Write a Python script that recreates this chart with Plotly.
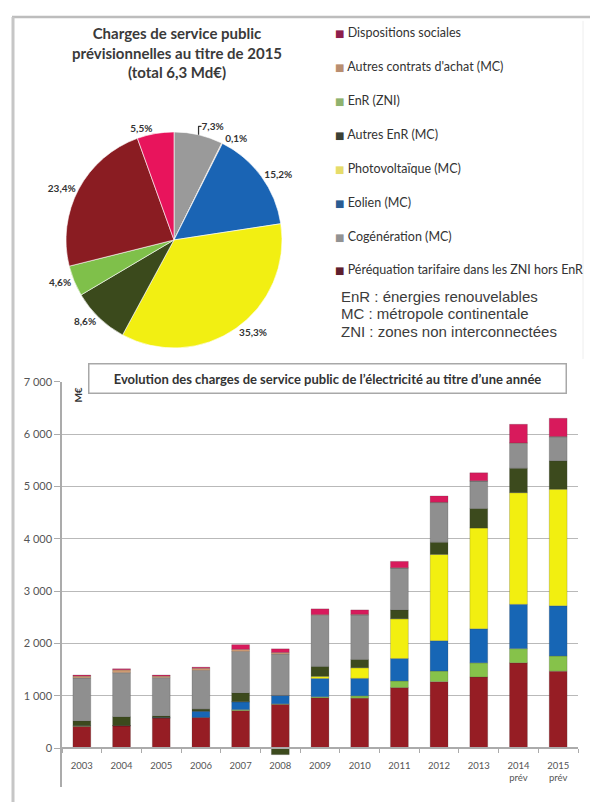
import plotly.graph_objects as go

# ---- Pie: forecast public-service charges for 2015 (shares, %) ----
pie_labels = ["Cogénération (MC)", "Autres contrats d'achat (MC)", "Eolien (MC)",
              "Photovoltaïque (MC)", "Autres EnR (MC)", "EnR (ZNI)",
              "Péréquation tarifaire dans les ZNI hors EnR", "Dispositions sociales"]
pie_values = [7.3, 0.1, 15.2, 35.3, 8.6, 4.6, 23.4, 5.5]
pie_colors = ["#9a9a9a", "#d49a6a", "#1a64b4", "#f2ef12", "#3b4a1c", "#7fc04a",
              "#8a1c22", "#e8145c"]

# ---- Stacked bars: yearly charges (M€) ----
years = ["2003", "2004", "2005", "2006", "2007", "2008", "2009", "2010",
         "2011", "2012", "2013", "2014<br>prév", "2015<br>prév"]

perequation = [420, 435, 580, 590, 720, 840, 965, 959, 1160, 1274, 1362, 1633, 1474]
enr_zni = [10, 0, 0, 0, 20, 10, 20, 44, 127, 202, 271, 272, 290]
eolien = [5, 0, 10, 120, 150, 160, 350, 334, 429, 580, 650, 844, 958]
photovoltaique = [0, 0, 0, 0, 0, 0, 40, 201, 757, 1646, 1923, 2132, 2224]
autres_enr = [90, 170, 30, 40, 170, -120, 190, 159, 170, 233, 373, 467, 542]
cogeneration = [820, 840, 730, 740, 790, 790, 978, 851, 800, 757, 524, 479, 460]
autres_contrats = [35, 55, 30, 40, 40, 30, 10, 10, 5, 5, 5, 5, 6]
dispositions_sociales = [20, 20, 20, 20, 90, 70, 110, 85, 122, 122, 152, 355, 347]

y_tick_vals = [0, 1000, 2000, 3000, 4000, 5000, 6000, 7000]
y_tick_text = ["0", "1 000", "2 000", "3 000", "4 000", "5 000", "6 000", "7 000"]

abbreviations = ["EnR : énergies renouvelables",
                 "MC : métropole continentale",
                 "ZNI : zones non interconnectées"]

# series: name, values, bar colour, legend swatch colour, legend rank
series = [
    ("Péréquation tarifaire dans les ZNI hors EnR", perequation, "#961d24", "#5e1f2e", 8),
    ("EnR (ZNI)", enr_zni, "#86c24a", "#8fb26e", 3),
    ("Eolien (MC)", eolien, "#1766b5", "#2a5c92", 6),
    ("Photovoltaïque (MC)", photovoltaique, "#f2ef10", "#e6dc6a", 5),
    ("Autres EnR (MC)", autres_enr, "#3c4a1d", "#3b4034", 4),
    ("Cogénération (MC)", cogeneration, "#8f8f8f", "#929292", 7),
    ("Autres contrats d'achat (MC)", autres_contrats, "#cf9a72", "#b98e70", 2),
    ("Dispositions sociales", dispositions_sociales, "#d81a5c", "#8d1e4c", 1),
]

W, H = 590, 802


def px(x):
    return x / W


def py(y):
    return 1 - y / H


fig = go.Figure()

fig.add_trace(go.Pie(
    labels=pie_labels, values=pie_values, sort=False, direction="clockwise",
    rotation=0, marker=dict(colors=pie_colors, line=dict(color="#ffffff", width=0.6)),
    texttemplate="<b>%{value:.1f}%</b>", textposition="outside",
    textfont=dict(family="Lato", size=10, color="#333333"),
    domain=dict(x=[px(66), px(282)], y=[py(344), py(126)]),
    showlegend=False, hoverinfo="label+value",
))

for name, vals, col, leg_col, rank in series:
    fig.add_trace(go.Bar(
        x=years, y=vals, name=name,
        marker=dict(color=col, line=dict(color="rgba(60,60,60,0.35)", width=0.6)),
        showlegend=False, xaxis="x", yaxis="y",
    ))
    # legend entry: small coloured square followed by the series name
    fig.add_trace(go.Scatter(
        x=[None], y=[None], mode="markers",
        name=f'<span style="color:{leg_col};font-family:DejaVu Sans;font-size:10px">■</span> {name}',
        legendgroup=name, legendrank=rank,
        marker=dict(symbol="square", size=1, color="rgba(0,0,0,0)",
                    line=dict(width=0, color="rgba(0,0,0,0)")),
        showlegend=True, xaxis="x", yaxis="y",
    ))

fig.update_layout(
    width=W, height=H, autosize=False,
    margin=dict(l=0, r=0, t=0, b=0),
    separators=", ",
    paper_bgcolor="white", plot_bgcolor="white",
    barmode="relative", bargap=0.55,
    font=dict(family="Lato", color="#333333"),
    legend=dict(
        x=px(295), y=py(11), xanchor="left", yanchor="top",
        traceorder="grouped", tracegroupgap=14.6,
        font=dict(family="Lato", size=12.5, color="#333333"),
        bgcolor="rgba(0,0,0,0)",
    ),
    xaxis=dict(
        domain=[px(62), px(578)], type="category", anchor="free", position=py(748),
        showline=True, linecolor="#ababab", linewidth=1.5,
        ticks="outside", tickson="boundaries", ticklen=4, tickcolor="#ababab",
        ticklabelstandoff=8,
        showgrid=False, tickfont=dict(family="Lato", size=9.5, color="#555555"),
        fixedrange=True,
    ),
    yaxis=dict(
        domain=[py(787), py(378)], anchor="x", range=[-740, 7000],
        tickvals=y_tick_vals, ticktext=y_tick_text,
        showgrid=True, gridcolor="#b9b9b9", gridwidth=1.2,
        zeroline=False, showline=True, linecolor="#ababab", linewidth=1.5,
        ticks="outside", ticklen=6, tickcolor="#ababab",
        tickfont=dict(family="Lato", size=11, color="#555555"),
    ),
)

# frame lines
fig.add_shape(type="line", xref="paper", yref="paper", x0=px(12), x1=1, y0=py(10), y1=py(10),
              line=dict(color="#bdbdbd", width=2.5))
fig.add_shape(type="line", xref="paper", yref="paper", x0=px(13), x1=px(13), y0=py(10), y1=0,
              line=dict(color="#c6c6c6", width=3))
fig.add_shape(type="line", xref="paper", yref="paper", x0=px(583), x1=px(583), y0=py(14), y1=py(355),
              line=dict(color="#eeeeee", width=1))

# pie title
fig.add_annotation(
    x=px(177), y=py(15), xref="paper", yref="paper", xanchor="center", yanchor="top",
    text="<b>Charges de service public<br>prévisionnelles au titre de 2015<br>(total 6,3 Md€)</b>",
    showarrow=False, align="center", font=dict(family="Lato", size=15, color="#3a3a3a"),
)

# abbreviations, one line each
for i, line in enumerate(abbreviations):
    fig.add_annotation(
        x=px(339), y=py(292 + 17.5 * i), xref="paper", yref="paper", xanchor="left", yanchor="middle",
        text=line, showarrow=False, align="left",
        font=dict(family="Liberation Sans", size=15, color="#3c3c3c"),
    )

# bar chart title box
fig.add_annotation(
    x=px(327), y=py(375), xref="paper", yref="paper", xanchor="center", yanchor="middle",
    text="<b>Evolution des charges de service public de l’électricité au titre d’une année</b>",
    showarrow=False, width=470, height=22, borderpad=3, bordercolor="#a8a8a8", borderwidth=1.5,
    bgcolor="white", font=dict(family="Lato", size=13, color="#333333"),
)

# unit label
fig.add_annotation(
    x=px(78), y=py(392), xref="paper", yref="paper", xanchor="center", yanchor="middle",
    text="<b>M€</b>", textangle=-90, showarrow=False,
    font=dict(family="Lato", size=10, color="#333333"),
)

fig.write_html("out.html")
